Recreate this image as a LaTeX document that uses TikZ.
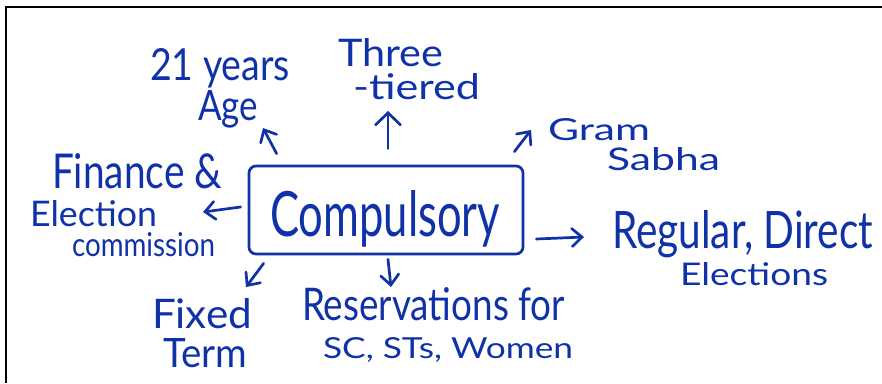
\documentclass[tikz,border=0pt]{standalone}
\usepackage{fontspec}
\setmainfont{Lato}
\usetikzlibrary{arrows.meta,calc}
\definecolor{ink}{RGB}{16,50,168}
% fit a line of text into a given width and height (above the baseline)
\newcommand{\hw}[3]{\resizebox{#1pt}{#2pt}{#3}}
\tikzset{
  lbl/.style={inner sep=0pt, outer sep=0pt, text=ink, anchor=base west},
  arr/.style={draw=ink, line width=2.7pt, line cap=round,
    -{Straight Barb[length=10pt,width=18pt,line cap=round]}},
  bigarr/.style={arr, -{Straight Barb[length=12pt,width=25pt,line cap=round]}},
  frameline/.style={draw=black, line width=2pt},
  mainbox/.style={draw=ink, line width=2.7pt, rounded corners=7pt,
    minimum width=274pt, minimum height=88pt, inner sep=0pt}
}
\begin{document}
\begin{tikzpicture}[x=1pt,y=-1pt]
\useasboundingbox (0,0) rectangle (882,383);
\fill[white] (0,0) rectangle (882,383);

% page frame (top and left edges)
\draw[frameline] (5,7) -- (882,7);
\draw[frameline] (6,6) -- (6,383);

% central box
\node[mainbox] (box) at (386,210) {};
\node[lbl] (word) at (270,236) {\hw{230}{46}{Compulsory}};

% surrounding labels
\node[lbl] (age1) at (150,80) {\hw{140}{32}{21 years}};
\node[lbl] (age2) at (198,120) {\hw{60}{30}{Age}};
\node[lbl] (three1) at (338,66) {\hw{105}{28}{Three}};
\node[lbl] (three2) at (353,99) {\hw{127}{26}{-tiered}};
\node[lbl] (gram1) at (548,140) {\hw{102}{22}{Gram}};
\node[lbl] (gram2) at (607,170) {\hw{113}{23}{Sabha}};
\node[lbl] (fin1) at (52,188) {\hw{170}{35}{Finance \&}};
\node[lbl] (fin2) at (30,226) {\hw{127}{26}{Election}};
\node[lbl] (fin3) at (72,256) {\hw{143}{24}{commission}};
\node[lbl] (reg1) at (612,248) {\hw{261}{38}{Regular, Direct}};
\node[lbl] (reg2) at (680,285) {\hw{148}{23}{Elections}};
\node[lbl] (fix1) at (152,328) {\hw{100}{30}{Fixed}};
\node[lbl] (fix2) at (163,367) {\hw{84}{29}{Term}};
\node[lbl] (res1) at (302,320) {\hw{263}{33}{Reservations for}};
\node[lbl] (res2) at (323,358) {\hw{250}{21}{SC, STs, Women}};

% arrow tips next to the labels
\coordinate (ageTip) at (263,128);
\coordinate (threeTip) at (388,111);
\coordinate (gramTip) at (531,130);
\coordinate (finTip) at (203,212);
\coordinate (regTip) at (584,237);
\coordinate (fixTip) at (246,287);
\coordinate (resTip) at (391,287);

% arrows out of the box
\draw[arr] ($(box.north west)+(29,-11)$) -- (ageTip);
\draw[bigarr] ($(box.north)+(2,-16)$) -- (threeTip);
\draw[arr] ($(box.north east)+(-10,-13)$) -- (gramTip);
\draw[arr] ($(box.west)+(-7,-3)$) -- (finTip);
\draw[arr] ($(box.east)+(12,29)$) -- (regTip);
\draw[arr] ($(box.south west)+(16,8)$) -- (fixTip);
\draw[arr] ($(box.south)+(2,4)$) -- (resTip);
\end{tikzpicture}
\end{document}
